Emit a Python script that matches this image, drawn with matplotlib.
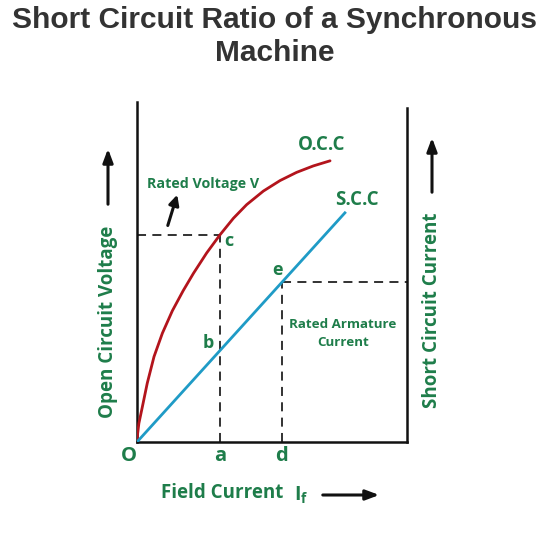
import matplotlib
matplotlib.use("Agg")
import matplotlib.pyplot as plt

# Data (field current vs. voltage/current, arbitrary units)
occ_x = [0.0, 0.01, 0.07, 0.20, 0.38, 0.63, 0.94, 1.31, 1.71, 2.09, 2.58, 3.07,
         3.57, 4.06, 4.68, 5.30, 5.91, 6.53, 7.15]
occ_y = [0.0, 0.16, 0.55, 1.04, 1.73, 2.51, 3.20, 3.86, 4.45, 4.96, 5.56, 6.09,
         6.58, 6.98, 7.38, 7.69, 7.93, 8.12, 8.27]
scc_x = [0.0, 7.7]
scc_y = [0.0, 6.74]
point_a = 3.07
point_d = 5.37
rated_voltage = 6.09
rated_current = 4.70

GREEN = "#1e7d4a"
RED = "#b3141c"
BLUE = "#1f9bc6"
FONT = ["Open Sans", "DejaVu Sans"]

fig = plt.figure(figsize=(5.5, 5.5), dpi=100)
ax = fig.add_axes([137/550, 1-442/550, 270/550, 340/550])
ax.set_xlim(0, 10)
ax.set_ylim(0, 10)
ax.patch.set_alpha(0)
ax.spines["top"].set_visible(False)
for s in ["left", "right", "bottom"]:
    ax.spines[s].set_linewidth(1.8)
    ax.spines[s].set_color("#111111")
ax.spines["right"].set_bounds(0, (442-108)/34)
ax.set_xticks([])
ax.set_yticks([])

ax.plot(occ_x, occ_y, color=RED, lw=2.0, solid_capstyle="round",
        solid_joinstyle="round", zorder=3)
ax.plot(scc_x, scc_y, color=BLUE, lw=2.0, zorder=3)

dash = dict(color="#222222", lw=1.3, ls=(0, (5, 3.5)), zorder=2)
ax.plot([0, point_a], [rated_voltage, rated_voltage], **dash)
ax.plot([point_a, point_a], [0, rated_voltage], **dash)
ax.plot([point_d, point_d], [0, rated_current], **dash)
ax.plot([point_d, 10], [rated_current, rated_current], **dash)

tk = dict(color=GREEN, family=FONT, fontweight="bold", clip_on=False)
ax.text(6.85, 8.74, "O.C.C", fontsize=13.5, ha="center", va="center", **tk)
ax.text(8.15, 7.12, "S.C.C", fontsize=13.5, ha="center", va="center", **tk)
ax.text(2.44, 7.59, "Rated Voltage V", fontsize=10.3, ha="center", va="center", **tk)
ax.text(3.4, 5.91, "c", fontsize=13, ha="center", va="center", **tk)
ax.text(2.63, 2.91, "b", fontsize=13, ha="center", va="center", **tk)
ax.text(5.19, 5.06, "e", fontsize=13, ha="center", va="center", **tk)
ax.text(7.63, 3.2, "Rated Armature\nCurrent", fontsize=9.6, ha="center", va="center",
        linespacing=1.5, **tk)
for lbl, xv in [("O", -0.3), ("a", point_a), ("d", point_d)]:
    ax.text(xv, -0.4, lbl, fontsize=14.5, ha="center", va="center", **tk)

ax.annotate("", xy=(1.52, 7.35), xytext=(1.11, 6.29),
            arrowprops=dict(arrowstyle="-|>,head_length=0.6,head_width=0.3",
                            color="#111111", lw=2.2))

lab = dict(color=GREEN, family=FONT, fontweight="bold")
fig.text(222/550, 1-493/550, "Field Current", fontsize=13.5,
         ha="center", va="center", **lab)
fig.text(301/550, 1-495/550, r"I$_\mathregular{f}$", fontsize=14,
         ha="center", va="center", **lab)
fig.text(108/550, 1-322/550, "Open Circuit Voltage", fontsize=13.5, rotation=90,
         ha="center", va="center", **lab)
fig.text(432/550, 1-310/550, "Short Circuit Current", fontsize=13.5, rotation=90,
         ha="center", va="center", **lab)

arr = dict(arrowstyle="-|>,head_length=0.8,head_width=0.3", color="#111111", lw=2.2)
fig.add_artist(matplotlib.patches.FancyArrowPatch((320/550, 1-495/550), (382/550, 1-495/550),
               transform=fig.transFigure, **arr, mutation_scale=10))
fig.add_artist(matplotlib.patches.FancyArrowPatch((108/550, 1-207/550), (108/550, 1-146/550),
               transform=fig.transFigure, **arr, mutation_scale=10))
fig.add_artist(matplotlib.patches.FancyArrowPatch((432/550, 1-195/550), (432/550, 1-135/550),
               transform=fig.transFigure, **arr, mutation_scale=10))

tfont = ["Liberation Sans", "DejaVu Sans"]
fig.text(0.5, 1-20/550, "Short Circuit Ratio of a Synchronous", fontsize=21.5,
         ha="center", va="center", color="#333333", family=tfont, fontweight="bold")
fig.text(0.5, 1-53/550, "Machine", fontsize=21.5,
         ha="center", va="center", color="#333333", family=tfont, fontweight="bold")

fig.savefig("out.png", dpi=100, facecolor="white")
